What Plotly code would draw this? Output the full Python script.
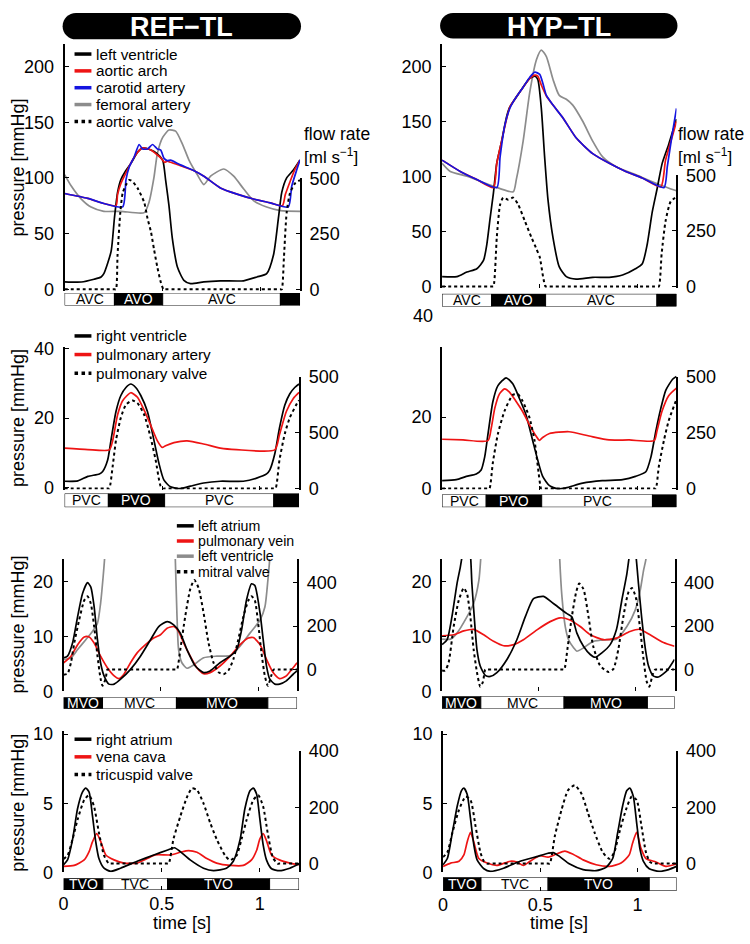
import plotly.graph_objects as go

W, H = 750, 944
FONT = "Liberation Sans, Arial, Helvetica, sans-serif"
RED = "#ee1414"
BLUE = "#1414e0"
GRAY = "#8c8c8c"
BLACK = "#000000"

# ======================= DATA =======================
T_RANGE = [0, 1.2]
T_TICKS = [0, 0.5, 1]
T_TICKTEXT = ["0", "0.5", "1"]

# ---- row 1 : left heart / arteries (pressure mmHg, flow ml/s) ----
ref_r1_lv = [(0, 6.7), (0.085, 6.5), (0.15, 9), (0.186, 11), (0.2, 14), (0.237, 34), (0.254, 64), (0.27, 87),
             (0.287, 98.5), (0.31, 106), (0.338, 113), (0.372, 123), (0.397, 127), (0.44, 125), (0.47, 122),
             (0.5, 116), (0.515, 98), (0.532, 75), (0.549, 46), (0.575, 20), (0.608, 8), (0.642, 5), (0.71, 6.7),
             (0.794, 7.6), (0.912, 7.6), (0.98, 11), (1.03, 14), (1.065, 31), (1.09, 64), (1.107, 87),
             (1.132, 100), (1.166, 107), (1.2, 116)]
ref_r1_aorta = [(0, 86), (0.118, 81.6), (0.2, 77), (0.262, 75), (0.27, 85), (0.287, 95), (0.32, 107), (0.346, 116),
                (0.372, 123), (0.397, 127), (0.44, 125), (0.47, 121), (0.49, 118), (0.51, 114), (0.524, 115),
                (0.54, 114), (0.59, 111), (0.66, 106.4), (0.71, 101.5), (0.794, 91), (0.879, 85.4), (0.963, 81),
                (1.048, 77.6), (1.11, 75), (1.125, 85), (1.15, 97), (1.175, 108), (1.2, 116)]
ref_r1_carotid = [(0, 86), (0.118, 81.6), (0.2, 77), (0.296, 74), (0.313, 98.5), (0.33, 110), (0.355, 119),
                  (0.38, 130), (0.397, 126), (0.423, 126), (0.448, 130), (0.473, 126), (0.49, 125), (0.507, 117.5),
                  (0.524, 115.5), (0.54, 116), (0.59, 111.7), (0.66, 106.4), (0.71, 101.5), (0.794, 91),
                  (0.879, 85.4), (0.963, 81), (1.048, 77.6), (1.14, 73.8), (1.158, 92.7), (1.183, 107), (1.2, 116)]
ref_r1_femoral = [(0, 103), (0.034, 92.7), (0.085, 81), (0.135, 73.8), (0.2, 70), (0.287, 70), (0.406, 68.8),
                  (0.43, 78), (0.456, 101), (0.473, 122), (0.5, 136.4), (0.532, 143), (0.566, 142), (0.6, 130.6),
                  (0.634, 116), (0.676, 103), (0.71, 94), (0.744, 101.5), (0.811, 108), (0.862, 101.5),
                  (0.913, 90), (0.963, 79.6), (1.03, 73.8), (1.1, 70.6), (1.2, 70)]
ref_r1_valve_flow = [(0, 0), (0.255, 0), (0.262, 0), (0.27, 157), (0.284, 347), (0.296, 434), (0.313, 471),
                     (0.33, 493), (0.346, 486), (0.372, 456), (0.406, 391), (0.423, 318), (0.44, 260), (0.456, 179),
                     (0.473, 99), (0.49, 33), (0.504, 0), (0.51, 0), (1.1, 0), (1.107, 0), (1.118, 143),
                     (1.132, 347), (1.149, 434), (1.175, 478), (1.2, 492)]

hyp_r1_lv = [(0, 8.8), (0.076, 8.8), (0.127, 13), (0.178, 16), (0.212, 23.5), (0.229, 38), (0.246, 62), (0.263, 85),
             (0.28, 112), (0.305, 132), (0.33, 154), (0.347, 163), (0.38, 172), (0.415, 181), (0.449, 189),
             (0.475, 191), (0.49, 188), (0.508, 162), (0.525, 117.6), (0.542, 79), (0.568, 44), (0.6, 17.6),
             (0.636, 8.8), (0.686, 6.5), (0.771, 8.2), (0.856, 8.2), (0.924, 10.3), (0.99, 16), (1.025, 20.6),
             (1.05, 38), (1.076, 67.6), (1.1, 88), (1.127, 112), (1.16, 129), (1.186, 144), (1.2, 152)]
hyp_r1_aorta = [(0, 114.7), (0.093, 104.4), (0.178, 97), (0.263, 89.7), (0.28, 111.8), (0.305, 132), (0.33, 152),
                (0.347, 163), (0.38, 172), (0.415, 181), (0.449, 189), (0.475, 192), (0.49, 191), (0.508, 183),
                (0.534, 173), (0.568, 164.7), (0.619, 153), (0.686, 135), (0.771, 120.6), (0.856, 111.8),
                (0.94, 104.4), (1.025, 98.5), (1.12, 90.5), (1.144, 114.7), (1.186, 141), (1.2, 150)]
hyp_r1_carotid = [(0, 114.7), (0.093, 104.4), (0.178, 97), (0.28, 89.7), (0.297, 117.6), (0.322, 147),
                  (0.347, 161.8), (0.364, 167.6), (0.38, 172), (0.415, 181), (0.449, 190), (0.475, 194.7),
                  (0.5, 192.6), (0.517, 183.8), (0.534, 173.5), (0.568, 164.7), (0.619, 153), (0.686, 135),
                  (0.771, 120.6), (0.856, 111.8), (0.94, 104.4), (1.025, 98.5), (1.136, 89.7), (1.153, 108.8),
                  (1.178, 138), (1.2, 161.8)]
hyp_r1_femoral = [(0, 111.8), (0.042, 104.4), (0.127, 100), (0.263, 91), (0.364, 85.9), (0.38, 97), (0.415, 132),
                  (0.449, 176.5), (0.483, 206), (0.508, 214.7), (0.534, 208.8), (0.568, 188), (0.6, 173.5),
                  (0.636, 170), (0.669, 164.7), (0.72, 150), (0.771, 132), (0.822, 117.6), (0.89, 108.8),
                  (0.99, 101.5), (1.11, 92.6), (1.2, 86.8)]
hyp_r1_valve_flow = [(0, 0), (0.256, 0), (0.263, 0), (0.28, 220), (0.297, 368), (0.313, 400), (0.339, 390),
                     (0.364, 400), (0.39, 368), (0.424, 294), (0.458, 220), (0.483, 169), (0.5, 132), (0.517, 44),
                     (0.529, 0), (0.535, 0), (1.1, 0), (1.11, 0), (1.124, 147), (1.144, 294), (1.17, 382),
                     (1.2, 404)]

# ---- row 2 : right ventricle / pulmonary artery ----
ref_r2_rv = [(0, 1.9), (0.068, 2), (0.119, 3.3), (0.178, 4), (0.195, 4.7), (0.22, 7.9), (0.237, 13.5),
             (0.263, 21.9), (0.288, 26.5), (0.314, 28.8), (0.339, 29.8), (0.364, 28.8), (0.39, 26.5),
             (0.424, 21.9), (0.458, 13.5), (0.483, 7), (0.508, 2.3), (0.542, 0.3), (0.593, -0.2), (0.644, 0.5),
             (0.712, 1.4), (0.797, 1.9), (0.915, 1.9), (0.983, 2.8), (1.034, 4), (1.05, 5.1), (1.076, 9.8),
             (1.1, 17.2), (1.127, 23.7), (1.153, 27), (1.178, 28.8), (1.2, 29.8)]
ref_r2_pa = [(0, 11.4), (0.119, 11), (0.229, 10.9), (0.246, 13.5), (0.271, 20.9), (0.297, 25), (0.339, 27.3),
             (0.373, 26), (0.407, 22.3), (0.44, 18.1), (0.475, 13.5), (0.5, 11.6), (0.517, 12.1), (0.56, 13),
             (0.627, 13.5), (0.712, 12.6), (0.797, 11.4), (0.88, 10.97), (1.076, 10.9), (1.1, 15.3),
             (1.135, 21.9), (1.17, 25.6), (1.2, 27.4)]
ref_r2_valve_flow = [(0, 0), (0.222, 0), (0.229, 0), (0.246, 99), (0.263, 216), (0.288, 318), (0.314, 376),
                     (0.347, 395), (0.373, 383), (0.407, 332), (0.44, 230), (0.466, 128), (0.491, 12), (0.505, 0),
                     (0.512, 0), (1.07, 0), (1.08, 0), (1.1, 128), (1.127, 245), (1.153, 318), (1.195, 390),
                     (1.2, 395)]

hyp_r2_rv = [(0, 2.2), (0.073, 2.5), (0.124, 3.4), (0.175, 4.1), (0.2, 5.2), (0.218, 8.8), (0.235, 15.2),
             (0.26, 24.3), (0.286, 28.8), (0.328, 31), (0.362, 29.3), (0.396, 25.2), (0.43, 20.6), (0.464, 13.4),
             (0.49, 7.9), (0.515, 3.4), (0.55, 0.8), (0.592, -0.1), (0.634, 0.2), (0.72, 1.5), (0.82, 2.2),
             (0.924, 2.5), (0.99, 3.4), (1.043, 4.7), (1.069, 8.8), (1.094, 16), (1.12, 22.5), (1.145, 27.5),
             (1.18, 30.6), (1.2, 31.4)]
hyp_r2_pa = [(0, 13.8), (0.107, 13.6), (0.235, 13.4), (0.252, 17), (0.27, 22.5), (0.294, 26.5), (0.32, 27.9),
             (0.345, 27), (0.38, 24.3), (0.413, 21.5), (0.447, 17.9), (0.481, 14.7), (0.498, 13.5), (0.515, 14.3),
             (0.55, 15.4), (0.65, 15.9), (0.753, 14.7), (0.855, 13.6), (0.958, 13.6), (1.086, 13.4),
             (1.1, 16.1), (1.125, 21.5), (1.16, 26), (1.2, 28.1)]
hyp_r2_valve_flow = [(0, 0), (0.236, 0), (0.243, 0), (0.26, 116), (0.286, 246), (0.32, 348), (0.362, 420),
                     (0.388, 423), (0.413, 391), (0.447, 319), (0.473, 217), (0.49, 101), (0.507, 0), (0.514, 0),
                     (1.085, 0), (1.094, 0), (1.11, 101), (1.136, 217), (1.16, 304), (1.2, 400)]

# ---- row 3 : left atrium / pulmonary vein ----
ref_r3_la = [(0, 6.1), (0.02, 6.4), (0.046, 8.8), (0.072, 13.6), (0.097, 17.8), (0.123, 19.8), (0.14, 19),
             (0.157, 15.4), (0.174, 9.4), (0.19, 5.2), (0.208, 2.8), (0.233, 1.3), (0.26, 1.3), (0.293, 2.2),
             (0.344, 4), (0.395, 6.4), (0.447, 9.4), (0.489, 11.8), (0.532, 12.7), (0.566, 12.1), (0.6, 10.6),
             (0.634, 7.6), (0.677, 4.6), (0.72, 3.4), (0.753, 3.7), (0.804, 5.2), (0.856, 6.4), (0.89, 7.6),
             (0.915, 11.2), (0.94, 16.6), (0.966, 19.6), (0.983, 19.3), (1.01, 14.2), (1.026, 9.4),
             (1.043, 4.6), (1.06, 2.2), (1.086, 1.3), (1.11, 1.3), (1.145, 1.9), (1.18, 3.1), (1.2, 3.7)]
ref_r3_pvein = [(0, 5.2), (0.038, 6.4), (0.072, 8.5), (0.106, 9.9), (0.131, 9.9), (0.157, 8.8), (0.19, 6.4),
                (0.225, 4.3), (0.26, 2.8), (0.285, 2.3), (0.31, 3.1), (0.344, 5.2), (0.378, 7), (0.421, 8.5),
                (0.463, 9.7), (0.498, 10.3), (0.532, 11.5), (0.566, 11.8), (0.591, 10.9), (0.617, 8.8),
                (0.651, 6.4), (0.685, 4.3), (0.72, 3.2), (0.753, 3.4), (0.804, 4.6), (0.856, 6.4), (0.907, 8.5),
                (0.95, 9.7), (0.975, 9.8), (1.01, 8.5), (1.043, 5.8), (1.077, 3.4), (1.11, 2.3), (1.145, 2.8),
                (1.18, 4.3), (1.2, 5.2)]
ref_r3_lv = [(0, 5.8), (0.038, 6.1), (0.072, 7.6), (0.114, 9.4), (0.148, 10.9), (0.174, 12.4), (0.19, 16),
             (0.203, 20.8), (0.211, 24.4), (0.22, 32), (0.26, 80), (0.4, 125), (0.53, 80), (0.565, 33),
             (0.574, 24.4), (0.583, 13.6), (0.591, 7.6), (0.608, 5.2), (0.634, 4.2), (0.668, 4.8), (0.72, 6.1),
             (0.787, 6.4), (0.856, 6.5), (0.907, 8.2), (0.958, 10.6), (1.01, 13), (1.035, 15.4), (1.05, 20.2),
             (1.06, 24.4), (1.07, 32), (1.11, 80), (1.2, 120)]
ref_r3_valve_flow = [(0, -24), (0.02, -19.5), (0.038, 33), (0.055, 123), (0.08, 228), (0.106, 318), (0.123, 337),
                     (0.14, 303), (0.157, 198), (0.174, 63), (0.19, -42), (0.2, -75), (0.216, -42), (0.225, 0),
                     (0.235, 0), (0.575, 0), (0.583, 0), (0.6, 93), (0.625, 243), (0.651, 370), (0.672, 412),
                     (0.694, 375), (0.72, 258), (0.745, 123), (0.77, 33), (0.796, -12), (0.822, -22),
                     (0.847, -4.5), (0.873, 48), (0.898, 138), (0.924, 243), (0.95, 318), (0.966, 337),
                     (0.983, 318), (1.0, 213), (1.017, 78), (1.034, -27), (1.05, -75), (1.068, -27), (1.08, 0),
                     (1.09, 0), (1.2, 0)]

hyp_r3_la = [(0, 8.5), (0.026, 9.4), (0.051, 13.6), (0.077, 19.6), (0.094, 22.6), (0.108, 25.5), (0.127, 28),
             (0.146, 25), (0.154, 19.6), (0.166, 13.6), (0.18, 7.6), (0.197, 4.6), (0.223, 2.9), (0.249, 2.7),
             (0.283, 3.4), (0.335, 5.8), (0.386, 9.4), (0.43, 13.6), (0.472, 16.9), (0.524, 17.3), (0.575, 16),
             (0.643, 14.2), (0.67, 13.6), (0.696, 10.6), (0.73, 8.2), (0.765, 6.7), (0.79, 6.2), (0.825, 7),
             (0.868, 8.5), (0.9, 11.2), (0.928, 16.6), (0.954, 21.4), (0.97, 25.5), (0.985, 28), (1.0, 25),
             (1.014, 19.6), (1.03, 13.6), (1.05, 7.6), (1.066, 4.6), (1.09, 2.8), (1.117, 2.6), (1.16, 3.7),
             (1.2, 5.8)]
hyp_r3_pvein = [(0, 10.1), (0.06, 10.3), (0.112, 11), (0.163, 11.3), (0.215, 10.3), (0.266, 9.1), (0.318, 8.3),
                (0.37, 8.5), (0.42, 9.4), (0.49, 11.2), (0.558, 12.7), (0.61, 13.4), (0.66, 13), (0.713, 11.8),
                (0.765, 10.3), (0.834, 9.4), (0.9, 9.7), (0.97, 10.9), (1.02, 11.3), (1.074, 10.3),
                (1.143, 8.9), (1.2, 8.2)]
hyp_r3_lv = [(0, 9.5), (0.043, 9.5), (0.077, 10.6), (0.129, 13.6), (0.163, 16), (0.19, 20.2), (0.2, 24.4),
             (0.21, 32), (0.26, 90), (0.42, 150), (0.57, 80), (0.6, 32), (0.607, 24.4), (0.619, 17.2),
             (0.636, 11.8), (0.653, 9.4), (0.68, 7.9), (0.696, 7.3), (0.73, 7.9), (0.78, 9.1), (0.85, 9.4),
             (0.9, 9.5), (0.954, 11.8), (0.997, 14.8), (1.023, 18.4), (1.04, 22), (1.054, 24.4), (1.064, 32),
             (1.12, 90), (1.2, 140)]
hyp_r3_valve_flow = [(0, -4.5), (0.016, -4.5), (0.034, 33), (0.06, 198), (0.086, 318), (0.112, 375),
                     (0.129, 348), (0.146, 243), (0.163, 93), (0.18, -12), (0.197, -79), (0.211, -57),
                     (0.223, 0), (0.233, 0), (0.622, 0), (0.631, 0), (0.647, 93), (0.67, 243), (0.692, 355),
                     (0.708, 396), (0.73, 370), (0.756, 243), (0.78, 108), (0.816, 18), (0.86, -12), (0.885, 3),
                     (0.91, 93), (0.936, 243), (0.962, 355), (0.98, 375), (1.0, 333), (1.023, 183), (1.04, 48),
                     (1.057, -57), (1.07, -79), (1.086, -27), (1.1, 0), (1.11, 0), (1.2, 0)]

# ---- row 4 : right atrium / vena cava ----
ref_r4_ra = [(0, 0.55), (0.02, 0.9), (0.046, 2.4), (0.071, 4.6), (0.096, 5.8), (0.113, 6.1), (0.13, 5.8),
             (0.147, 4.1), (0.164, 2.2), (0.18, 1.0), (0.206, 0.3), (0.24, 0.07), (0.29, 0.3), (0.375, 0.8),
             (0.46, 1.26), (0.527, 1.6), (0.565, 1.78), (0.595, 1.5), (0.645, 0.9), (0.713, 0.3), (0.764, 0.12),
             (0.83, 0.3), (0.865, 0.8), (0.9, 2.4), (0.924, 4.6), (0.95, 5.9), (0.967, 6.1), (0.984, 5.65),
             (1.0, 3.9), (1.017, 2.0), (1.034, 0.9), (1.06, 0.26), (1.1, 0.12), (1.153, 0.3), (1.2, 0.6)]
ref_r4_vc = [(0, 0.43), (0.054, 0.5), (0.105, 0.9), (0.13, 1.5), (0.147, 2.2), (0.169, 2.8), (0.19, 2.2),
             (0.215, 1.26), (0.257, 0.9), (0.308, 0.67), (0.375, 0.67), (0.426, 1.0), (0.468, 1.26),
             (0.544, 1.26), (0.595, 1.45), (0.637, 1.57), (0.68, 1.45), (0.73, 1.0), (0.78, 0.67), (0.85, 0.5),
             (0.916, 0.5), (0.958, 0.9), (0.984, 1.6), (1.0, 2.4), (1.017, 2.8), (1.034, 2.3), (1.06, 1.26),
             (1.1, 0.9), (1.153, 0.67), (1.2, 0.55)]
ref_r4_valve_flow = [(0, 17), (0.02, 29), (0.046, 87), (0.071, 156), (0.105, 226), (0.13, 243), (0.155, 203),
                     (0.18, 110), (0.206, 29), (0.23, 0), (0.24, 0), (0.527, 0), (0.536, 0), (0.56, 87),
                     (0.595, 168), (0.63, 238), (0.654, 267), (0.68, 261), (0.713, 214), (0.747, 145),
                     (0.78, 87), (0.823, 29), (0.848, 12), (0.882, 29), (0.907, 87), (0.933, 156), (0.967, 226),
                     (0.992, 243), (1.017, 203), (1.04, 110), (1.066, 23), (1.09, 0), (1.1, 0), (1.2, 0)]

hyp_r4_ra = [(0, 0.55), (0.022, 1.0), (0.048, 2.9), (0.073, 4.8), (0.094, 5.9), (0.107, 6.1), (0.124, 5.65),
             (0.141, 3.9), (0.158, 2.0), (0.175, 0.9), (0.21, 0.26), (0.243, 0.07), (0.311, 0.3), (0.396, 0.8),
             (0.481, 1.14), (0.54, 1.38), (0.566, 1.43), (0.6, 1.14), (0.651, 0.6), (0.72, 0.2), (0.787, 0.12),
             (0.838, 0.36), (0.872, 1.0), (0.898, 2.9), (0.923, 4.8), (0.944, 5.9), (0.96, 6.1), (0.978, 5.5),
             (0.995, 3.6), (1.012, 1.7), (1.03, 0.8), (1.06, 0.26), (1.11, 0.07), (1.16, 0.2), (1.2, 0.43)]
hyp_r4_vc = [(0, 0.43), (0.039, 0.67), (0.082, 0.8), (0.107, 1.26), (0.124, 2.2), (0.141, 2.9), (0.158, 2.2),
             (0.184, 1.0), (0.226, 0.67), (0.277, 0.5), (0.345, 0.8), (0.379, 0.75), (0.413, 0.5), (0.447, 0.8),
             (0.498, 1.2), (0.54, 1.1), (0.583, 1.33), (0.626, 1.54), (0.668, 1.31), (0.72, 0.9), (0.787, 0.55),
             (0.855, 0.43), (0.915, 0.67), (0.957, 1.26), (0.974, 2.1), (0.995, 2.9), (1.017, 1.75),
             (1.043, 1.0), (1.094, 0.75), (1.145, 0.43), (1.2, 0.6)]
hyp_r4_valve_flow = [(0, 23), (0.022, 40), (0.048, 110), (0.082, 191), (0.116, 238), (0.141, 226), (0.167, 133),
                     (0.192, 40), (0.21, 8), (0.226, 0), (0.236, 0), (0.54, 0), (0.549, 0), (0.575, 99),
                     (0.609, 191), (0.643, 261), (0.677, 278), (0.711, 249), (0.745, 180), (0.779, 110),
                     (0.821, 40), (0.855, 17), (0.88, 40), (0.906, 110), (0.94, 191), (0.97, 238), (0.995, 226),
                     (1.02, 133), (1.043, 40), (1.063, 6), (1.08, 0), (1.09, 0), (1.2, 0)]

# ---- valve state bars (segment bounds in s, open flag, label) ----
ref_r1_valve_t = [0, 0.254, 0.50, 1.10, 1.2]
hyp_r1_valve_t = [0, 0.254, 0.53, 1.10, 1.2]
r1_valve_open = [0, 1, 0, 1]
r1_valve_lbl = ["AVC", "AVO", "AVC", ""]

ref_r2_valve_t = [0, 0.224, 0.512, 1.071, 1.2]
hyp_r2_valve_t = [0, 0.226, 0.51, 1.077, 1.2]
r2_valve_open = [0, 1, 0, 1]
r2_valve_lbl = ["PVC", "PVO", "PVC", ""]

ref_r3_valve_t = [0, 0.2, 0.58, 1.05, 1.2]
hyp_r3_valve_t = [0, 0.2, 0.63, 1.06, 1.2]
r3_valve_open = [1, 0, 1, 0]
r3_valve_lbl = ["MVO", "MVC", "MVO", ""]

ref_r4_valve_t = [0, 0.2, 0.53, 1.05, 1.2]
hyp_r4_valve_t = [0, 0.195, 0.54, 1.06, 1.2]
r4_valve_open = [1, 0, 1, 0]
r4_valve_lbl = ["TVO", "TVC", "TVO", ""]

# ---- axis ticks ----
r1_p_ticks = [0, 50, 100, 150, 200]
r1_f_ticks = [0, 250, 500]
r2_p_ticks_ref = [0, 20, 40]
r2_p_ticks_hyp = [0, 20]
r2_f_ticks = [0, 250, 500]
r2_f_text_ref = ["0", "500", "500"]
r2_f_text_hyp = ["0", "250", "500"]
r3_p_ticks = [0, 10, 20]
r3_f_ticks = [0, 200, 400]
r4_p_ticks = [0, 5, 10]
r4_f_ticks = [0, 200, 400]

# ---- legends ----
leg_r1 = [("left ventricle", BLACK, "solid"), ("aortic arch", RED, "solid"), ("carotid artery", BLUE, "solid"),
          ("femoral artery", GRAY, "solid"), ("aortic valve", BLACK, "dot")]
leg_r2 = [("right ventricle", BLACK, "solid"), ("pulmonary artery", RED, "solid"), ("pulmonary valve", BLACK, "dot")]
leg_r3 = [("left atrium", BLACK, "solid"), ("pulmonary vein", RED, "solid"), ("left ventricle", GRAY, "solid"),
          ("mitral valve", BLACK, "dot")]
leg_r4 = [("right atrium", BLACK, "solid"), ("vena cava", RED, "solid"), ("tricuspid valve", BLACK, "dot")]

# ======================= LAYOUT GEOMETRY (px) =======================
PANELS = [
    dict(x0=60, x1=297, yb=287, yt=35, yrt=172, bar=(289, 302), lr=[-1.5, 220], rr=[-7, 500],
         lt=r1_p_ticks, rt=r1_f_ticks, rtt=None, bottom=False, valve=(ref_r1_valve_t, r1_valve_open, r1_valve_lbl),
         curves=[(ref_r1_femoral, GRAY, "L", "solid"), (ref_r1_lv, BLACK, "L", "solid"), (ref_r1_aorta, RED, "L", "solid"),
                 (ref_r1_carotid, BLUE, "L", "solid"), (ref_r1_valve_flow, BLACK, "R", "dot")]),
    dict(x0=440, x1=676, yb=284, yt=35, yrt=169, bar=(290, 303), lr=[-1.5, 220], rr=[-7, 500],
         lt=r1_p_ticks, rt=r1_f_ticks, rtt=None, bottom=False, valve=(hyp_r1_valve_t, r1_valve_open, r1_valve_lbl),
         curves=[(hyp_r1_femoral, GRAY, "L", "solid"), (hyp_r1_lv, BLACK, "L", "solid"), (hyp_r1_aorta, RED, "L", "solid"),
                 (hyp_r1_carotid, BLUE, "L", "solid"), (hyp_r1_valve_flow, BLACK, "R", "dot")]),
    dict(x0=60, x1=296, yb=490, yt=344, yrt=375, bar=(494, 508), lr=[-0.5, 40.5], rr=[-5, 500],
         lt=r2_p_ticks_ref, rt=r2_f_ticks, rtt=r2_f_text_ref, bottom=False, valve=(ref_r2_valve_t, r2_valve_open, r2_valve_lbl),
         curves=[(ref_r2_rv, BLACK, "L", "solid"), (ref_r2_pa, RED, "L", "solid"), (ref_r2_valve_flow, BLACK, "R", "dot")]),
    dict(x0=440, x1=676, yb=490, yt=344, yrt=375, bar=(495, 508), lr=[-0.3, 39.7], rr=[-5, 500],
         lt=r2_p_ticks_hyp, rt=r2_f_ticks, rtt=r2_f_text_hyp, bottom=False, valve=(hyp_r2_valve_t, r2_valve_open, r2_valve_lbl),
         curves=[(hyp_r2_rv, BLACK, "L", "solid"), (hyp_r2_pa, RED, "L", "solid"), (hyp_r2_valve_flow, BLACK, "R", "dot")]),
    dict(x0=59, x1=294, yb=696, yt=561, yrt=561, bar=(702, 714), lr=[0, 24.1], rr=[-100, 508],
         lt=r3_p_ticks, rt=r3_f_ticks, rtt=None, bottom=False, valve=(ref_r3_valve_t, r3_valve_open, r3_valve_lbl),
         curves=[(ref_r3_lv, GRAY, "L", "solid"), (ref_r3_pvein, RED, "L", "solid"), (ref_r3_la, BLACK, "L", "solid"),
                 (ref_r3_valve_flow, BLACK, "R", "dot")]),
    dict(x0=440, x1=674, yb=696, yt=561, yrt=561, bar=(701, 714), lr=[0, 24.1], rr=[-100, 508],
         lt=r3_p_ticks, rt=r3_f_ticks, rtt=None, bottom=False, valve=(hyp_r3_valve_t, r3_valve_open, r3_valve_lbl),
         curves=[(hyp_r3_lv, GRAY, "L", "solid"), (hyp_r3_pvein, RED, "L", "solid"), (hyp_r3_la, BLACK, "L", "solid"),
                 (hyp_r3_valve_flow, BLACK, "R", "dot")]),
    dict(x0=59, x1=296, yb=881, yt=737, yrt=757, bar=(887, 899), lr=[0, 10.2], rr=[-31, 400],
         lt=r4_p_ticks, rt=r4_f_ticks, rtt=None, bottom=True, valve=(ref_r4_valve_t, r4_valve_open, r4_valve_lbl),
         curves=[(ref_r4_vc, RED, "L", "solid"), (ref_r4_ra, BLACK, "L", "solid"), (ref_r4_valve_flow, BLACK, "R", "dot")]),
    dict(x0=441, x1=676, yb=881, yt=737, yrt=757, bar=(886, 900), lr=[0, 10.2], rr=[-31, 400],
         lt=r4_p_ticks, rt=r4_f_ticks, rtt=None, bottom=True, valve=(hyp_r4_valve_t, r4_valve_open, r4_valve_lbl),
         curves=[(hyp_r4_vc, RED, "L", "solid"), (hyp_r4_ra, BLACK, "L", "solid"), (hyp_r4_valve_flow, BLACK, "R", "dot")]),
]


def X(px):
    return px / W


def Y(py):
    return 1 - py / H


def an(prefix, i):
    return prefix if i == 1 else f"{prefix}{i}"


def ak(prefix, i):
    return f"{prefix}axis" if i == 1 else f"{prefix}axis{i}"


TICKFONT = dict(family=FONT, size=18, color="black")
fig = go.Figure()
axes = {}
shapes = []
annos = []

for k, P in enumerate(PANELS):
    xm, xv = 2 * k + 1, 2 * k + 2
    yl, yr, yv = 3 * k + 1, 3 * k + 2, 3 * k + 3
    xdom = [X(P["x0"]), X(P["x1"])]
    axes[ak("x", xm)] = dict(domain=xdom, range=T_RANGE, anchor=an("y", yl), showline=False, showgrid=False,
                             zeroline=False, ticks="inside", ticklen=4, tickwidth=1, tickcolor="black",
                             tickvals=[0.5, 1], showticklabels=False, fixedrange=True)
    axes[ak("y", yl)] = dict(domain=[Y(P["yb"]), Y(P["yt"])], range=P["lr"], anchor=an("x", xm), side="left",
                             showline=True, linecolor="black", linewidth=2, ticks="inside", ticklen=4,
                             tickwidth=1, tickcolor="black", tickvals=P["lt"], tickfont=TICKFONT,
                             showgrid=False, zeroline=False, ticklabelstandoff=5, fixedrange=True)
    ry = dict(domain=[Y(P["yb"]), Y(P["yrt"])], range=P["rr"], anchor=an("x", xm), side="right",
              showline=True, linecolor="black", linewidth=2, ticks="inside", ticklen=4, tickwidth=1,
              tickcolor="black", tickvals=P["rt"], tickfont=TICKFONT, showgrid=False, zeroline=False,
              ticklabelstandoff=4, fixedrange=True)
    if P["rtt"] is not None:
        ry["ticktext"] = P["rtt"]
    axes[ak("y", yr)] = ry
    vx = dict(domain=xdom, range=T_RANGE, anchor=an("y", yv), showline=False, showgrid=False, zeroline=False,
              fixedrange=True)
    if P["bottom"]:
        vx.update(ticks="inside", ticklen=4, tickwidth=1, tickcolor="black", tickvals=T_TICKS,
                  ticktext=T_TICKTEXT, tickfont=TICKFONT, showticklabels=True, ticklabelstandoff=1)
    else:
        vx.update(visible=False)
    axes[ak("x", xv)] = vx
    axes[ak("y", yv)] = dict(domain=[Y(P["bar"][1]), Y(P["bar"][0])], range=[0, 1], anchor=an("x", xv),
                             visible=False, fixedrange=True)

    for pts, color, side, dash in P["curves"]:
        fig.add_trace(go.Scatter(
            x=[p[0] for p in pts], y=[p[1] for p in pts], mode="lines",
            xaxis=an("x", xm), yaxis=an("y", yl if side == "L" else yr),
            line=dict(color=color, width=2 if dash == "dot" else 1.7, dash=dash, shape="spline", smoothing=0.6),
            showlegend=False, hoverinfo="skip"))
    # dummy trace to register the valve subplot
    fig.add_trace(go.Scatter(x=[None], y=[None], xaxis=an("x", xv), yaxis=an("y", yv), mode="lines",
                             showlegend=False, hoverinfo="skip"))

    vt, vopen, vlbl = P["valve"]
    for i in range(len(vopen)):
        shapes.append(dict(type="rect", xref=an("x", xv), yref=an("y", yv), x0=vt[i], x1=vt[i + 1], y0=0, y1=1,
                           fillcolor="black" if vopen[i] else "white", line=dict(color="black", width=1),
                           layer="below"))
        if vlbl[i]:
            annos.append(dict(xref=an("x", xv), yref=an("y", yv), x=(vt[i] + vt[i + 1]) / 2, y=0.5, text=vlbl[i],
                              showarrow=False, font=dict(family=FONT, size=14,
                                                         color="white" if vopen[i] else "black"),
                              xanchor="center", yanchor="middle"))


def add_legend(items, lx0, lx1, tx, ys, size):
    for (txt, color, dash), y in zip(items, ys):
        shapes.append(dict(type="line", xref="paper", yref="paper", x0=X(lx0), x1=X(lx1), y0=Y(y), y1=Y(y),
                           line=dict(color=color, width=3.5, dash=dash)))
        annos.append(dict(xref="paper", yref="paper", x=X(tx), y=Y(y), text=txt, showarrow=False,
                          xanchor="left", yanchor="middle", font=dict(family=FONT, size=size, color="black")))


add_legend(leg_r1, 70, 87, 90, [45, 62.2, 79.4, 96.6, 113.8], 15.3)
add_legend(leg_r2, 70, 87, 90, [333, 352, 371], 15.3)
add_legend(leg_r3, 173, 190, 192, [527, 542.5, 558, 574], 14.2)
add_legend(leg_r4, 70, 87, 90, [745, 763, 781], 15.3)

# y-axis titles
for yc in [161, 417, 628, 810]:
    annos.append(dict(xref="paper", yref="paper", x=X(13), y=Y(yc), text="pressure [mmHg]", textangle=-90,
                      showarrow=False, xanchor="center", yanchor="middle",
                      font=dict(family=FONT, size=18, color="black")))

# flow rate labels
for fx in [299, 675]:
    annos.append(dict(xref="paper", yref="paper", x=X(fx), y=Y(127), text="flow rate", showarrow=False,
                      xanchor="left", yanchor="middle", font=dict(family=FONT, size=17.5, color="black")))
    annos.append(dict(xref="paper", yref="paper", x=X(fx), y=Y(149), text="[ml s<sup>−1</sup>]", showarrow=False,
                      xanchor="left", yanchor="middle", font=dict(family=FONT, size=17, color="black")))

# displaced "40" label (HYP row 2)
annos.append(dict(xref="paper", yref="paper", x=X(433), y=Y(313), text="40", showarrow=False,
                  xanchor="right", yanchor="middle", font=dict(family=FONT, size=18, color="black")))

# time axis titles
for cx in [178, 558]:
    annos.append(dict(xref="paper", yref="paper", x=X(cx), y=Y(933), text="time [s]", showarrow=False,
                      xanchor="center", yanchor="middle", font=dict(family=FONT, size=18, color="black")))


# title pills
def pill(a, b, yt, yb):
    r = (yb - yt) / 2
    yc = (yt + yb) / 2
    kk = 0.5523 * r
    pts = [("M", (a + r, yt)), ("L", (b - r, yt)),
           ("C", (b - r + kk, yt), (b, yc - kk), (b, yc)),
           ("C", (b, yc + kk), (b - r + kk, yb), (b - r, yb)),
           ("L", (a + r, yb)),
           ("C", (a + r - kk, yb), (a, yc + kk), (a, yc)),
           ("C", (a, yc - kk), (a + r - kk, yt), (a + r, yt))]
    s = ""
    for cmd, *ps in pts:
        s += cmd + " " + " ".join(f"{X(px):.5f},{Y(py):.5f}" for px, py in ps) + " "
    return s + "Z"


for (a, b, yt, yb, txt) in [(58, 298, 3, 30, "REF−TL"), (438, 677, 3, 29, "HYP−TL")]:
    shapes.append(dict(type="path", xref="paper", yref="paper", path=pill(a, b, yt, yb), fillcolor="black",
                       line=dict(color="black", width=0)))
    annos.append(dict(xref="paper", yref="paper", x=X((a + b) / 2), y=Y((yt + yb) / 2 + 1), text=f"<b>{txt}</b>",
                      showarrow=False, xanchor="center", yanchor="middle",
                      font=dict(family=FONT, size=27, color="white")))

fig.update_layout(
    width=W, height=H, margin=dict(l=0, r=0, t=0, b=0), autosize=False,
    paper_bgcolor="white", plot_bgcolor="rgba(0,0,0,0)", showlegend=False,
    font=dict(family=FONT, size=18, color="black"),
    shapes=shapes, annotations=annos, **axes)

fig.write_html("out.html", config={"displayModeBar": False, "staticPlot": True},
               post_script="document.body.style.margin='0px';document.body.style.padding='0px';"
                           "document.body.style.overflow='hidden';")
